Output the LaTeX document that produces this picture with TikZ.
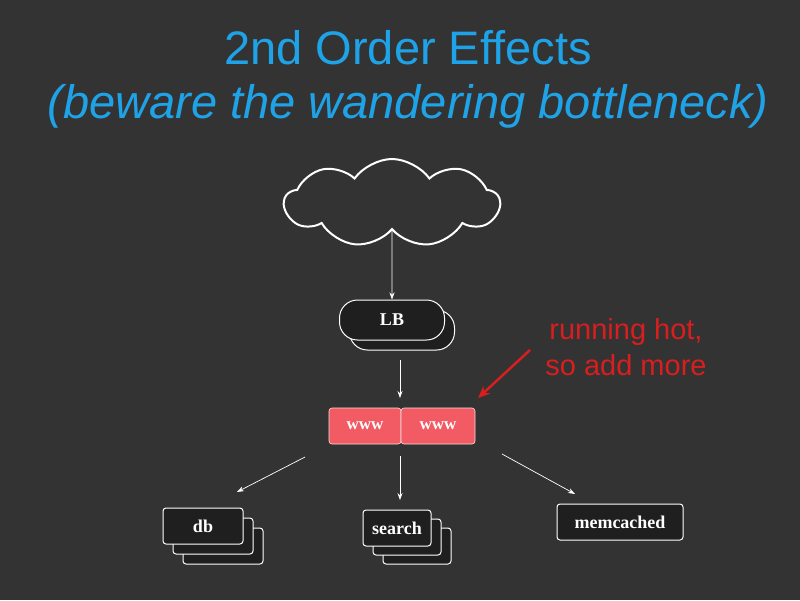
\documentclass[tikz,border=0pt]{standalone}
\usepackage{fontspec}
\setmainfont{Liberation Sans}
\newfontfamily\slab{Liberation Serif}
\usetikzlibrary{shapes.symbols,arrows.meta}
\definecolor{bg}{HTML}{333333}
\definecolor{ttl}{HTML}{1FA3E8}
\definecolor{hot}{HTML}{D81E1E}
\definecolor{wwwc}{HTML}{F25A64}
\begin{document}
\begin{tikzpicture}[x=1pt,y=-1pt,
  box/.style={draw=white,line width=1pt,fill=black!88,rounded corners=3pt,minimum height=36pt,text=white,font=\slab\bfseries\fontsize{18}{18}\selectfont},
  pill/.style={box,rounded corners=18pt,minimum height=40pt,minimum width=105pt},
  wbox/.style={draw=white!80!wwwc,line width=0.6pt,fill=wwwc,rounded corners=3pt,minimum height=36pt,text=white,font=\slab\bfseries\fontsize{17}{17}\selectfont},
  conn/.style={white,line width=0.7pt,-{Stealth[length=7pt,width=5pt]}},
  hotarrow/.style={hot,line width=2.5pt,-{Stealth[length=12pt,width=10pt]}}]
\fill[bg] (0,0) rectangle (800,600);
\useasboundingbox (0,0) rectangle (800,600);
\node[ttl,font=\fontsize{47}{47}\selectfont] (t1) at (408,48) {2nd Order Effects};
\node[ttl,font=\itshape\fontsize{47}{47}\selectfont] (t2) at (408,106) {(beware the wandering bottleneck)};
\node[cloud,cloud puffs=9,cloud puff arc=110,aspect=2.6,draw=white,line width=2pt,minimum width=215pt,minimum height=88pt] (cloud) at (392,203) {};
\node[pill] (lbb) at (402,330) {};
\node[pill] (lb) at (392,320) {LB};
\node[wbox,minimum width=72pt] (w1) at (365,426) {www};
\node[wbox,minimum width=74pt] (w2) at (438,426) {www};
\node[box,minimum width=80pt] (db3) at (223,546) {};
\node[box,minimum width=80pt] (db2) at (213,536) {};
\node[box,minimum width=80pt] (db) at (203,526) {db};
\node[box,minimum width=68pt] (s3) at (417,546) {};
\node[box,minimum width=68pt] (s2) at (407,537) {};
\node[box,minimum width=68pt] (s) at (397,528) {search};
\node[box,minimum width=126pt] (mc) at (620,522) {memcached};
\node[hot,font=\fontsize{29}{36}\selectfont,align=center] (note) at (626,347) {running hot,\\so add more};
\coordinate (na) at (530,350);
\coordinate (wa) at (305,457);
\coordinate (wc) at (502,454);
\coordinate (da) at (237,492);
\draw[conn] (cloud.south) -- (lb.north);
\draw[conn] (400,360) -- (400,398);
\draw[conn] (wa) -- (da);
\draw[conn] (400,456) -- (400,500);
\draw[conn] (wc) -- (575,494);
\draw[hotarrow] (na) -- (478,398);
\end{tikzpicture}
\end{document}
